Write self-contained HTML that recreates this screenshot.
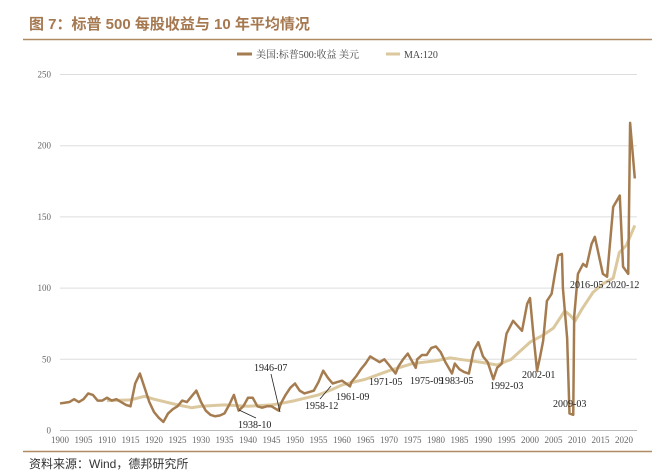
<!DOCTYPE html>
<html><head><meta charset="utf-8"><style>
body{margin:0;background:#fff;width:661px;height:470px;overflow:hidden;font-family:"Liberation Serif","Noto Serif CJK SC",serif}
svg text{font-family:"Liberation Serif","Noto Serif CJK SC",serif}
</style></head><body>
<svg id="c" width="661" height="470">
<text x="29" y="29" font-size="15" font-weight="bold" fill="#a5784f" style="font-family:'Liberation Sans','Noto Sans CJK SC',sans-serif">图 7：标普 500 每股收益与 10 年平均情况</text>
<line x1="23" y1="39.5" x2="652" y2="39.5" stroke="#b08a62" stroke-width="1.5"/>
<g>
<line x1="237" y1="54" x2="252" y2="54" stroke="#a57c50" stroke-width="3"/>
<text x="256" y="58" font-size="10" fill="#444">美国:标普500:收益 美元</text>
<line x1="386" y1="54" x2="400" y2="54" stroke="#dcc89e" stroke-width="3"/>
<text x="404" y="58" font-size="10" fill="#444">MA:120</text>
</g>
<g id="grid"></g><g id="xt"></g><g id="lines"></g>
<g font-size="10" fill="#222">
<text x="254" y="371">1946-07</text>
<line x1="271" y1="374" x2="280" y2="412" stroke="#222" stroke-width="0.8"/>
<text x="238" y="428">1938-10</text>
<line x1="239" y1="410" x2="256" y2="418" stroke="#222" stroke-width="0.8"/>
<text x="305" y="409">1958-12</text>
<line x1="320" y1="399" x2="331" y2="386" stroke="#222" stroke-width="0.8"/>
<text x="336" y="400">1961-09</text>
<text x="369" y="385">1971-05</text>
<text x="410" y="384">1975-09</text>
<text x="440" y="384">1983-05</text>
<text x="490" y="389">1992-03</text>
<text x="522" y="378">2002-01</text>
<text x="553" y="407">2009-03</text>
<text x="570" y="288">2016-05</text>
<text x="606" y="288">2020-12</text>
</g>
<line x1="23" y1="451.5" x2="652" y2="451.5" stroke="#b08a62" stroke-width="1.5"/>
<text x="29" y="468" font-size="12" fill="#333" style="font-family:'Liberation Sans','Noto Sans CJK SC',sans-serif">资料来源：Wind，德邦研究所</text>
</svg>
<script>
const epsYears=[1900,1901,1902,1903,1904,1905,1906,1907,1908,1909,1910,1911,1912,1913,1914,1915,1916,1917,1918,1919,1920,1921,1922,1923,1924,1925,1926,1927,1928,1929,1930,1931,1932,1933,1934,1935,1936,1937,1938,1939,1940,1941,1942,1943,1944,1945,1946.5,1947,1948,1949,1950,1951,1952,1953,1954,1955,1956,1957,1958,1959,1960,1961.7,1962,1963,1964,1965,1966,1967,1968,1969,1970,1971.4,1972,1973,1974,1975.7,1976,1977,1978,1979,1980,1981,1982,1983.4,1984,1985,1986,1987,1988,1989,1990,1991,1992.2,1993,1994,1995,1996.4,1998.3,1999.4,2000,2000.7,2001.5,2002.1,2002.8,2003.6,2004.6,2005.3,2006,2006.8,2007,2007.9,2008.4,2009.2,2009.4,2010.2,2011.3,2012,2013.1,2013.8,2015.5,2016.4,2017.7,2018.4,2019.1,2019.8,2020.9,2021.3,2022.3];
const epsValues=[19,19.5,20,22,20,22,26,25,21,21,23,21,22,20,18,17,33,40,30,20,13,9,6,12,15,17,21,20,24,28,20,14,11,10,10.5,12,18,25,14,17,23,23,17,16,17,17,14,19,25,30,33,28,26,27,28,34,42,37,33,34,35,31,34,38,43,47,52,50,48,50,46,40,45,50,54,44,50,53,53,58,59,55,48,40,47,43,41,40,56,62,52,48,36,44,47,68,77,70,89,93,68,42,51,63,91,96,110,123,124,100,65,12,11,80,110,117,115,131,136,110,108,157,161,165,115,110,216,177];
const maYears=[1910,1915,1918,1920,1925,1928,1930,1935,1940,1945,1947,1950,1955,1958,1960,1965,1970,1975,1980,1983,1985,1989.4,1993,1996,1998,2000,2002.8,2005,2007.4,2008.5,2009.6,2011,2013.4,2015.5,2017.7,2019,2020.5,2022.3];
const maValues=[21,21.5,24,22,18,16,17,18,17,18,19,21,25,29,32,36,42,47,49,51,50,48,46,50,56,62,67,72,84,81,77,85,97,103,107,125,130,144];
const yTicks=[0,50,100,150,200,250];
const xTicks=[1900,1905,1910,1915,1920,1925,1930,1935,1940,1945,1950,1955,1960,1965,1970,1975,1980,1985,1990,1995,2000,2005,2010,2015,2020];
const NS="http://www.w3.org/2000/svg";
const X=y=>60+(y-1900)*4.7, Y=v=>430.5-v*1.424;
function mk(tag,attrs,parent){const e=document.createElementNS(NS,tag);for(const k in attrs)e.setAttribute(k,attrs[k]);parent.appendChild(e);return e;}
const grid=document.getElementById('grid'),xt=document.getElementById('xt'),lines=document.getElementById('lines');
yTicks.forEach(t=>{
 const l=mk('line',{x1:60,x2:637,y1:Y(t),y2:Y(t),stroke:t===0?'#bbb':'#ddd','stroke-width':1},grid);
 
 
 const tx=mk('text',{x:51,y:Y(t)+3,'font-size':9,fill:'#666','text-anchor':'end'},grid);
 tx.textContent=t;
 
 
});
xTicks.forEach(t=>{
 const tx=mk('text',{x:X(t),y:443,'font-size':9,fill:'#666','text-anchor':'middle'},xt);
 tx.textContent=t;
 
 
});
const ma=mk('polyline',{points:maYears.map((y,i)=>X(y)+','+Y(maValues[i])).join(' '),fill:'none',stroke:'#dcc89e','stroke-width':3,'stroke-linejoin':'round'},lines);


const eps=mk('polyline',{points:epsYears.map((y,i)=>X(y)+','+Y(epsValues[i])).join(' '),fill:'none',stroke:'#a57c50','stroke-width':2.5,'stroke-linejoin':'round'},lines);


</script>
</body></html>
